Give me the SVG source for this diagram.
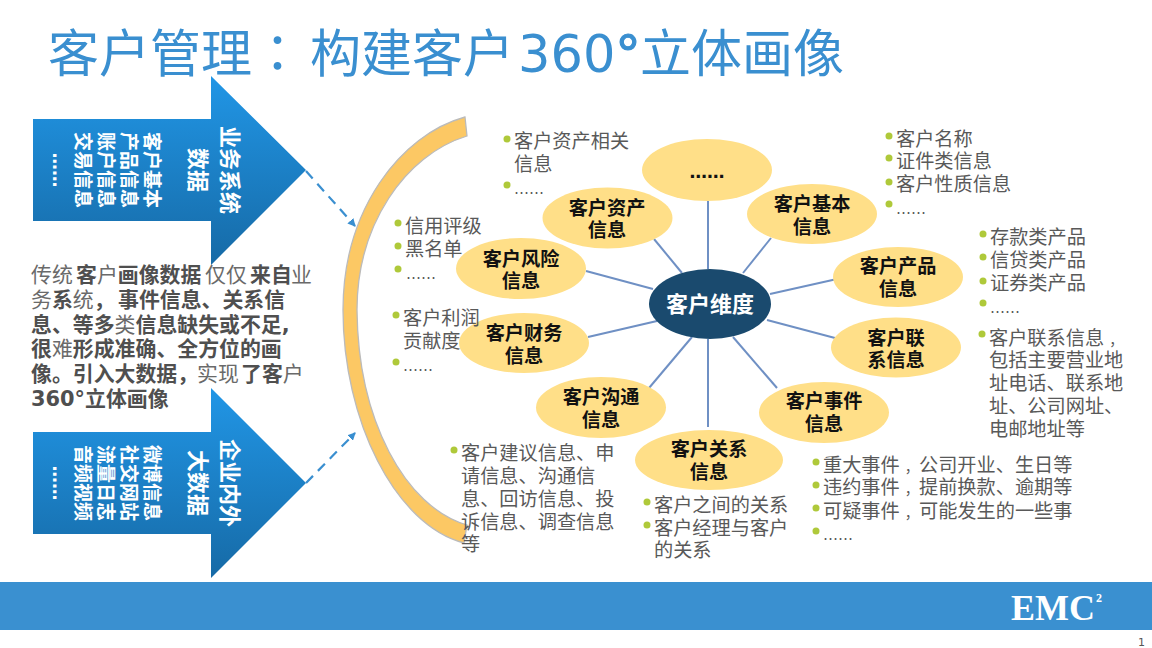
<svg xmlns="http://www.w3.org/2000/svg" width="1152" height="648" viewBox="0 0 1152 648">
<style>
text{font-family:"DejaVu Sans","Noto Sans CJK SC",sans-serif}
.t{font-size:19.2px;fill:#595959}
.e{font-size:15px}
.we{font-size:17.500px}
.d{fill:#afc93a}
.n{fill:#ffdf88}
.nl{font-size:19.2px;font-weight:700;fill:#111;text-anchor:middle;transform:translateY(1px)}
.t text:not(.e){transform:translateY(1px)}
.cm{font-size:14.200px}
.w{fill:#fff;text-anchor:middle;font-weight:700}
.p{font-size:20.9px;fill:#6a6a6a}
.b{font-weight:700;fill:#4f4f4f}
.r{font-weight:400;fill:#6a6a6a}
.c line{stroke:#6f90c4;stroke-width:2}
.da{stroke:#3a8fd0;stroke-width:2.2;stroke-dasharray:10 7;fill:none}
</style>
<defs>
<linearGradient id="g" x1="0" y1="0" x2="0" y2="1"><stop offset="0" stop-color="#2196e6"/><stop offset="1" stop-color="#166aa6"/></linearGradient>
<marker id="ah" markerUnits="userSpaceOnUse" markerWidth="8" markerHeight="8" refX="7" refY="4" orient="auto"><path d="M0 0L8 4L0 8Z" fill="#3a8fd0"/></marker>
</defs>
<rect width="1152" height="648" fill="#fff"/>
<text y="72" font-size="51" fill="#3a8fd0"><tspan x="48">客户管理</tspan><tspan style="font-family:'Noto Sans CJK TC',sans-serif">：</tspan><tspan x="310">构建客户</tspan><tspan x="518">360</tspan><tspan stroke="#3a8fd0" stroke-width="1.200">°</tspan><tspan x="640">立体画像</tspan></text>
<rect id="band" x="0" y="582" width="1152" height="48" fill="#3a90d0"/>
<text x="1011" y="620" font-size="36" font-weight="700" fill="#fff" style="font-family:'Liberation Serif',serif">EMC</text>
<text x="1096" y="602" font-size="12" font-weight="700" fill="#fff" style="font-family:'Liberation Serif',serif">2</text>
<text x="1138" y="646" font-size="11" fill="#555">1</text>
<path id="crescent" d="M465 117C400 135 343 210 343 310C343 420 395 525 464 543L467 525C405 507 358 420 357 310C357 225 405 155 467 136Z" fill="#fcc864" stroke="#bbb" stroke-width="1.300"/>
<g id="a1"><path d="M33 119H211V76L306 170L211 265V221H33Z" fill="url(#g)"/>
<g transform="translate(230 170) rotate(90)"><text class="w" font-size="22" y="8">业务系统</text><text class="w" font-size="22" y="40">数据</text></g>
<g transform="translate(152 170) rotate(90)" font-size="19"><text class="w" y="7">客户基本</text><text class="w" y="30">产品信息</text><text class="w" y="53">账户信息</text><text class="w" y="76">交易信息</text><text class="w we" y="99">……</text></g></g>
<g id="a2"><path d="M33 432H211V388L306 483L211 578V534H33Z" fill="url(#g)"/>
<g transform="translate(230 483) rotate(90)"><text class="w" font-size="22" y="8">企业内外</text><text class="w" font-size="22" y="40">大数据</text></g>
<g transform="translate(152 483) rotate(90)" font-size="19"><text class="w" y="7">微博信息</text><text class="w" y="30">社交网站</text><text class="w" y="53">流量日志</text><text class="w" y="76">音频视频</text><text class="w we" y="99">……</text></g></g>
<g class="c" id="connectors">
<path class="da" d="M306 171L355 226" marker-end="url(#ah)"/>
<path class="da" d="M306 483L355 433" marker-end="url(#ah)"/>
<line x1="708" y1="269" x2="708" y2="201"/><line x1="682" y1="273" x2="654" y2="239"/><line x1="743" y1="273" x2="771" y2="238"/><line x1="770" y1="294" x2="837" y2="279"/><line x1="767" y1="320" x2="835" y2="338"/><line x1="733" y1="337" x2="777" y2="388"/><line x1="708" y1="339" x2="708" y2="427"/><line x1="692" y1="337" x2="649" y2="388"/><line x1="657" y1="321" x2="588" y2="337"/><line x1="653" y1="289" x2="586" y2="271"/>
</g>
<g id="n0"><ellipse class="n" cx="707" cy="170" rx="65" ry="31"/><text class="nl" x="707" y="177" style="font-size:17.500px">……</text></g>
<g id="n1"><ellipse class="n" cx="607.500" cy="218" rx="65" ry="30.500"/><text class="nl" x="607" y="214">客户资产</text><text class="nl" x="607" y="236">信息</text></g>
<g id="n2"><ellipse class="n" cx="812" cy="214" rx="65" ry="30"/><text class="nl" x="812" y="210">客户基本</text><text class="nl" x="812" y="233">信息</text></g>
<g id="n3"><ellipse class="n" cx="898" cy="277" rx="65" ry="30"/><text class="nl" x="898" y="272">客户产品</text><text class="nl" x="898" y="295">信息</text></g>
<g id="n4"><ellipse class="n" cx="896" cy="347.500" rx="65" ry="30"/><text class="nl" x="896" y="344">客户联</text><text class="nl" x="896" y="366">系信息</text></g>
<g id="n5"><ellipse class="n" cx="824" cy="412.500" rx="65" ry="30.500"/><text class="nl" x="824" y="407">客户事件</text><text class="nl" x="824" y="430">信息</text></g>
<g id="n6"><ellipse class="n" cx="709" cy="460" rx="74" ry="30"/><text class="nl" x="709" y="455">客户关系</text><text class="nl" x="709" y="478">信息</text></g>
<g id="n7"><ellipse class="n" cx="601" cy="407.500" rx="65" ry="30.500"/><text class="nl" x="601" y="403">客户沟通</text><text class="nl" x="601" y="426">信息</text></g>
<g id="n8"><ellipse class="n" cx="524" cy="343" rx="65" ry="30"/><text class="nl" x="524" y="339">客户财务</text><text class="nl" x="524" y="362">信息</text></g>
<g id="n9"><ellipse class="n" cx="521" cy="268.500" rx="65" ry="30.500"/><text class="nl" x="521" y="265">客户风险</text><text class="nl" x="521" y="287">信息</text></g>
<g id="center"><ellipse cx="710" cy="304" rx="61" ry="35" fill="#1a4a6e"/><text x="710" y="312" font-size="22" font-weight="700" fill="#fff" text-anchor="middle">客户维度</text></g>
<g id="para" class="p">
<text y="282"><tspan x="31">传统</tspan><tspan x="76" class="b">客</tspan><tspan class="r">户</tspan><tspan class="b">画像数据</tspan><tspan x="205">仅仅</tspan><tspan x="250" class="b">来自</tspan><tspan x="291">业</tspan></text>
<text y="307"><tspan x="31">务</tspan><tspan class="b">系</tspan>统<tspan class="b">，</tspan><tspan x="118" class="b">事件信息、关系信</tspan></text>
<text x="31" y="332" class="b">息、等多<tspan class="r">类</tspan>信息缺失或不足,</text>
<text x="31" y="356" class="b">很<tspan class="r">难</tspan>形成准确、全方位的画</text>
<text y="381" class="b"><tspan x="31">像。引入大数据，</tspan><tspan x="197" class="r">实现</tspan><tspan x="241">了客</tspan><tspan class="r">户</tspan></text>
<text x="31" y="406" class="b">360°立体画像</text>
</g>
<g id="labels" class="t">
<circle class="d" cx="507" cy="139" r="3.500"/><text x="514" y="147">客户资产相关</text><text x="514" y="170">信息</text><circle class="d" cx="507" cy="185" r="3.500"/><text x="514" y="194" class="e">……</text>
<circle class="d" cx="889" cy="136" r="3.500"/><text x="896" y="145">客户名称</text><circle class="d" cx="889" cy="158" r="3.500"/><text x="896" y="167">证件类信息</text><circle class="d" cx="889" cy="182" r="3.500"/><text x="896" y="190">客户性质信息</text><circle class="d" cx="889" cy="204" r="3.500"/><text x="896" y="214" class="e">……</text>
<circle class="d" cx="983" cy="234" r="3.500"/><text x="990" y="243">存款类产品</text><circle class="d" cx="983" cy="257" r="3.500"/><text x="990" y="266">信贷类产品</text><circle class="d" cx="983" cy="281" r="3.500"/><text x="990" y="289">证券类产品</text><circle class="d" cx="983" cy="303" r="3.500"/><text x="990" y="313" class="e">……</text>
<circle class="d" cx="982" cy="334" r="3.500"/><text x="989" y="344">客户联系信息<tspan dx="5" class="cm">，</tspan></text><text x="989" y="366">包括主要营业地</text><text x="989" y="389">址电话、联系地</text><text x="989" y="412">址、公司网址、</text><text x="989" y="435">电邮地址等</text>
<circle class="d" cx="398" cy="223" r="3.500"/><text x="405" y="232">信用评级</text><circle class="d" cx="398" cy="246" r="3.500"/><text x="405" y="255">黑名单</text><circle class="d" cx="398" cy="269" r="3.500"/><text x="406" y="279" class="e">……</text>
<circle class="d" cx="396" cy="315" r="3.500"/><text x="403" y="324">客户利润</text><text x="403" y="347">贡献度</text><circle class="d" cx="396" cy="362" r="3.500"/><text x="403" y="371" class="e">……</text>
<circle class="d" cx="454" cy="450" r="3.500"/><text x="461" y="459">客户建议信息、申</text><text x="461" y="482">请信息、沟通信</text><text x="461" y="505">息、回访信息、投</text><text x="461" y="528">诉信息、调查信息</text><text x="461" y="550">等</text>
<circle class="d" cx="647" cy="502" r="3.500"/><text x="654" y="511">客户之间的关系</text><circle class="d" cx="647" cy="525" r="3.500"/><text x="654" y="534">客户经理与客户</text><text x="654" y="556">的关系</text>
<circle class="d" cx="816" cy="462" r="3.500"/><text x="823" y="471">重大事件<tspan dx="5" class="cm">，</tspan>公司开业、生日等</text><circle class="d" cx="816" cy="485" r="3.500"/><text x="823" y="493">违约事件<tspan dx="5" class="cm">，</tspan>提前换款、逾期等</text><circle class="d" cx="816" cy="508" r="3.500"/><text x="823" y="517">可疑事件<tspan dx="5" class="cm">，</tspan>可能发生的一些事</text><circle class="d" cx="816" cy="531" r="3.500"/><text x="823" y="540" class="e">……</text>
</g>
</svg>
